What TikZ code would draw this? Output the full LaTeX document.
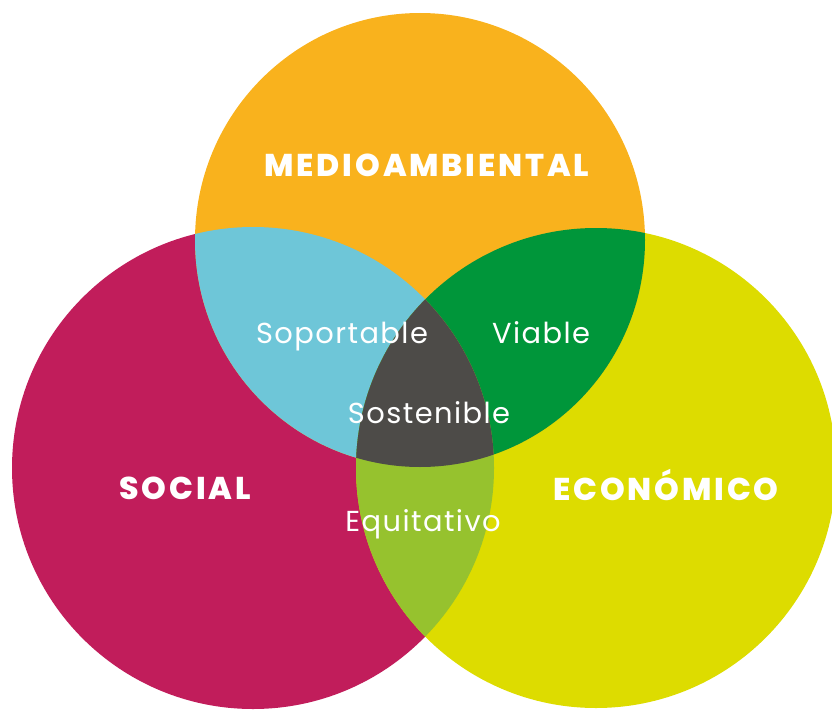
\documentclass[tikz,border=0pt]{standalone}
\usepackage{fontspec}
\setmainfont{Poppins}
\newfontfamily\headfont{Poppins ExtraBold}[LetterSpace=9]
\newfontfamily\zonefont{Poppins}[LetterSpace=5]
\definecolor{ambiente}{RGB}{249,178,29}
\definecolor{sociedad}{RGB}{193,29,91}
\definecolor{economia}{RGB}{221,220,0}
\definecolor{soporte}{RGB}{110,198,216}
\definecolor{viab}{RGB}{0,150,58}
\definecolor{equit}{RGB}{150,194,46}
\definecolor{nucleo}{RGB}{77,75,72}
\tikzset{
  topset/.style={insert path={(420,240) ellipse [x radius=225, y radius=227]}},
  leftset/.style={insert path={(253,468) circle [radius=241]}},
  rightset/.style={insert path={(596,468) circle [radius=240]}},
  biglabel/.style={text=white, inner sep=0pt, font=\headfont\fontsize{31.6}{36}\selectfont},
  zonelabel/.style={text=white, inner sep=0pt, font=\zonefont\fontsize{29}{34}\selectfont}
}
\begin{document}
\begin{tikzpicture}[x=1bp, y=-1bp]
\useasboundingbox (0,0) rectangle (832,711);
\clip (0,0) rectangle (832,711);
% the three sets
\fill[sociedad, leftset];
\fill[economia, rightset];
\fill[ambiente, topset];
% pairwise overlaps
\begin{scope}
  \clip[topset];
  \fill[soporte, leftset];
  \fill[viab, rightset];
\end{scope}
\begin{scope}
  \clip[leftset];
  \fill[equit, rightset];
  \clip[rightset];
  \fill[nucleo, topset];
\end{scope}
% labels
\node[biglabel] (amb) at (427,165) {MEDIOAMBIENTAL};
\node[biglabel] (soc) at (185,488) {SOCIAL};
\node[biglabel] (eco) at (666,485) {ECONÓMICO};
\node[zonelabel] (sop) at (342,337) {Soportable};
\node[zonelabel] (via) at (541,333) {Viable};
\node[zonelabel] (sos) at (429,413) {Sostenible};
\node[zonelabel] (equ) at (423,524) {Equitativo};
\end{tikzpicture}
\end{document}
